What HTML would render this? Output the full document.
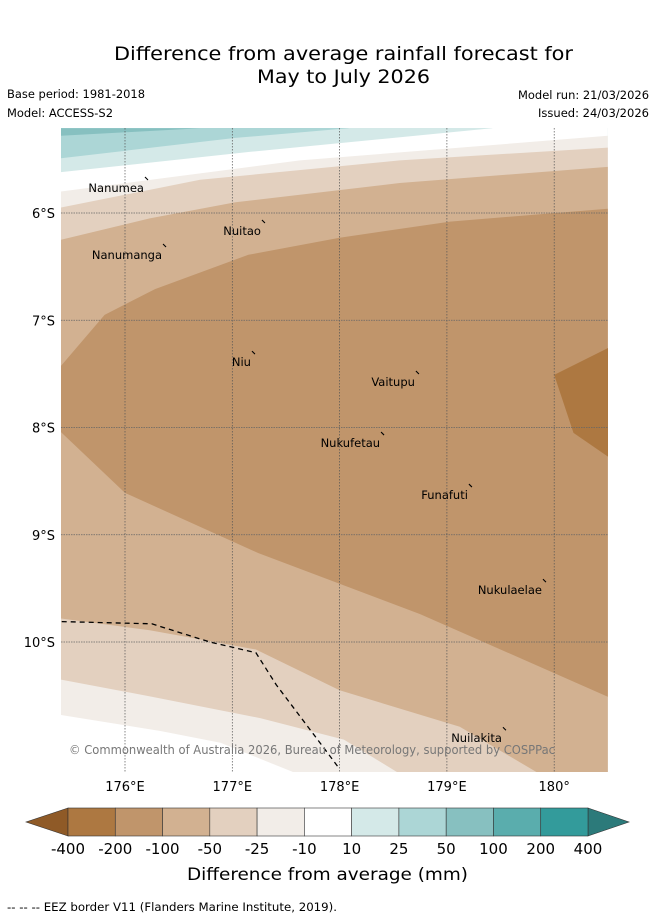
<!DOCTYPE html>
<html><head><meta charset="utf-8"><style>
body{margin:0;background:#fff;}
svg text{font-family:"DejaVu Sans","Liberation Sans",sans-serif;}
</style></head><body>
<svg id="s" width="655" height="919" viewBox="0 0 655 919" xmlns="http://www.w3.org/2000/svg">
<rect width="655" height="919" fill="#fff"/>
<text x="114" y="60" font-size="19" textLength="459" lengthAdjust="spacingAndGlyphs">Difference from average rainfall forecast for</text>
<text x="257" y="83" font-size="19" textLength="173" lengthAdjust="spacingAndGlyphs">May to July 2026</text>
<text x="7" y="98" font-size="11.5" textLength="138" lengthAdjust="spacingAndGlyphs">Base period: 1981-2018</text>
<text x="7" y="117" font-size="11.5" textLength="106" lengthAdjust="spacingAndGlyphs">Model: ACCESS-S2</text>
<text x="518" y="99" font-size="11.5" textLength="131" lengthAdjust="spacingAndGlyphs">Model run: 21/03/2026</text>
<text x="538" y="117" font-size="11.5" textLength="111" lengthAdjust="spacingAndGlyphs">Issued: 24/03/2026</text>
<defs><clipPath id="mc"><rect x="61" y="128" width="547" height="644"/></clipPath></defs>
<g id="map" clip-path="url(#mc)"></g>
<g id="ov"></g>
<text x="69" y="754" font-size="12" fill="#777" textLength="486" lengthAdjust="spacingAndGlyphs">© Commonwealth of Australia 2026, Bureau of Meteorology, supported by COSPPac</text>
<g id="cb"></g>
<text x="187" y="880" font-size="17" textLength="281" lengthAdjust="spacingAndGlyphs">Difference from average (mm)</text>
<text x="7" y="911" font-size="11.5" textLength="330" lengthAdjust="spacingAndGlyphs">-- -- -- EEZ border V11 (Flanders Marine Institute, 2019).</text>
</svg>
<script>
const NS='http://www.w3.org/2000/svg';
// contour boundaries [lon, lat(°S)]
const boundT2=[[175.40,5.49],[177.03,5.30],[178.08,5.21]];
const cornerTeal=[[175.40,5.21],[175.40,5.28],[176.70,5.21]];
const boundW=[[175.40,5.62],[177.16,5.43],[179.42,5.21]];
const boundF=[[175.40,5.80],[177.63,5.51],[180.50,5.28]];
const boundE=[[175.40,5.95],[176.70,5.69],[178.56,5.51],[180.50,5.39]];
const boundD=[[175.40,6.25],[176.23,6.05],[177.03,5.90],[178.56,5.72],[180.50,5.57]];
const darkTop=[[175.40,7.43],[175.81,6.95],[176.28,6.71],[177.15,6.39],[178.00,6.23],[179.03,6.08],[180.50,5.96]];
const darkBottom=[[180.50,10.51],[178.75,9.74],[177.24,9.17],[176.00,8.61],[175.40,8.04]];
const patchA=[[180.50,7.26],[180.00,7.51],[180.18,8.05],[180.50,8.27]];
const boundL1=[[175.40,9.78],[176.23,9.89],[177.22,10.07],[178.00,10.45],[179.12,10.79],[179.83,11.21]];
const boundL2=[[175.40,10.35],[176.25,10.51],[177.26,10.71],[178.04,10.91],[178.53,11.21]];
const boundL3=[[175.40,10.68],[176.33,10.83],[176.89,10.94],[177.56,11.21]];
const eez=[[175.41,9.81],[176.25,9.83],[176.79,10.00],[177.22,10.10],[177.41,10.40],[177.78,10.89],[177.99,11.17]];
const lonTicks=[176,177,178,179,180];
const lonLabels=['176°E','177°E','178°E','179°E','180°'];
const latTicks=[6,7,8,9,10];
const latLabels=['6°S','7°S','8°S','9°S','10°S'];
const islands=['Nanumea','Nuitao','Nanumanga','Niu','Vaitupu','Nukufetau','Funafuti','Nukulaelae','Nuilakita'];
const islandLon=[176.177,177.267,176.345,177.174,178.702,178.377,179.196,179.886,179.513];
const islandLat=[5.767,6.168,6.392,7.390,7.576,8.145,8.630,9.516,10.897];
const cbLevels=['-400','-200','-100','-50','-25','-10','10','25','50','100','200','400'];
const cbColors=['#ad7841','#c0956b','#d2b191','#e3d0bf','#f2ede8','#ffffff','#d4e9e8','#acd6d6','#87c0c0','#5aadad','#339b9b'];
const cbLow='#8f5a27', cbHigh='#2c7a7a';

const W0=175.40,W1=180.50,N0=5.21,S1=11.21;
const X=lon=>125+(lon-176)*107.3;
const Y=lat=>213+(lat-6)*107.25;
const pts=a=>a.map(p=>X(p[0]).toFixed(1)+','+Y(p[1]).toFixed(1)).join(' ');
const map=document.getElementById('map');
function poly(par,arr,fill,name){const e=document.createElementNS(NS,'polygon');e.setAttribute('points',pts(arr));e.setAttribute('fill',fill);


par.appendChild(e);return e;}
function belowPoly(b){const last=b[b.length-1];let a=b.slice();if(last[0]<W1)a.push([W1,N0-0.5]);a.push([W1,S1+1],[W0,S1+1]);return a;}
function belowBottom(b){const last=b[b.length-1];let a=b.slice();a.push([last[0]+3,S1+1],[W0,S1+1]);return a;}
poly(map,[[W0,N0-1],[W1,N0-1],[W1,S1+1],[W0,S1+1]],'#d4e9e8','band-10-25');
poly(map,[[W0,N0-1]].concat(boundT2,[[W1,N0-1]]),'#acd6d6','band-25-50');
poly(map,cornerTeal,'#87c0c0','band-50-100');
poly(map,belowPoly(boundW),'#ffffff','band-neutral');
poly(map,belowPoly(boundF),'#f2ede8','band-minus25-minus10');
poly(map,belowPoly(boundE),'#e3d0bf','band-minus50-minus25');
poly(map,belowPoly(boundD),'#d2b191','band-minus100-minus50');
poly(map,darkTop.concat(darkBottom),'#c0956b','band-minus200-minus100');
poly(map,patchA.concat([[W1+1,8.27],[W1+1,7.26]]),'#ad7841','band-minus400-minus200');
poly(map,belowBottom(boundL1),'#e3d0bf','band-minus50-minus25-south');
poly(map,belowBottom(boundL2),'#f2ede8','band-minus25-minus10-south');
poly(map,belowBottom(boundL3),'#ffffff','band-neutral-south');
lonTicks.forEach(v=>{const l=document.createElementNS(NS,'line');l.setAttribute('x1',X(v));l.setAttribute('x2',X(v));l.setAttribute('y1',128);l.setAttribute('y2',772);l.setAttribute('stroke','#555');l.setAttribute('stroke-width','0.7');l.setAttribute('stroke-dasharray','1.5,1.5');


map.appendChild(l);});
latTicks.forEach(v=>{const l=document.createElementNS(NS,'line');l.setAttribute('y1',Y(v));l.setAttribute('y2',Y(v));l.setAttribute('x1',61);l.setAttribute('x2',608);l.setAttribute('stroke','#666');l.setAttribute('stroke-width','0.7');l.setAttribute('stroke-dasharray','1.5,1');


map.appendChild(l);});
const ez=document.createElementNS(NS,'polyline');ez.setAttribute('points',pts(eez));ez.setAttribute('fill','none');ez.setAttribute('stroke','#000');ez.setAttribute('stroke-width','1.3');ez.setAttribute('stroke-dasharray','5,4');


map.appendChild(ez);
islands.forEach((n,i)=>{const x=X(islandLon[i]),y=Y(islandLat[i]);
const t=document.createElementNS(NS,'text');t.setAttribute('x',x);t.setAttribute('y',y+4);t.setAttribute('font-size','11.5');t.setAttribute('text-anchor','end');t.textContent=n;


map.appendChild(t);
const m=document.createElementNS(NS,'line');m.setAttribute('x1',x+1);m.setAttribute('y1',y-11);m.setAttribute('x2',x+4);m.setAttribute('y2',y-8);m.setAttribute('stroke','#000');m.setAttribute('stroke-width','1.1');


map.appendChild(m);});
const ov=document.getElementById('ov');
lonTicks.forEach((v,i)=>{const t=document.createElementNS(NS,'text');t.setAttribute('x',X(v));t.setAttribute('y',791);t.setAttribute('font-size','13');t.setAttribute('text-anchor','middle');t.textContent=lonLabels[i];


ov.appendChild(t);});
latTicks.forEach((v,i)=>{const t=document.createElementNS(NS,'text');t.setAttribute('x',55);t.setAttribute('y',Y(v)+5);t.setAttribute('font-size','13');t.setAttribute('text-anchor','end');t.textContent=latLabels[i];


ov.appendChild(t);});
const cb=document.getElementById('cb');const cx0=68,cx1=588,cy0=808,cy1=836,n=cbColors.length,w=(cx1-cx0)/n;
const CX=i=>cx0+i*w;
const lo=document.createElementNS(NS,'polygon');lo.setAttribute('points',`${cx0},${cy0} 26,${(cy0+cy1)/2} ${cx0},${cy1}`);lo.setAttribute('fill',cbLow);lo.setAttribute('stroke','#333');lo.setAttribute('stroke-width','0.6');


cb.appendChild(lo);
const hi=document.createElementNS(NS,'polygon');hi.setAttribute('points',`${cx1},${cy0} 629,${(cy0+cy1)/2} ${cx1},${cy1}`);hi.setAttribute('fill',cbHigh);hi.setAttribute('stroke','#333');hi.setAttribute('stroke-width','0.6');


cb.appendChild(hi);
cbColors.forEach((c,i)=>{const r=document.createElementNS(NS,'rect');r.setAttribute('x',CX(i));r.setAttribute('y',cy0);r.setAttribute('width',w);r.setAttribute('height',cy1-cy0);r.setAttribute('fill',c);r.setAttribute('stroke','#333');r.setAttribute('stroke-width','0.6');


cb.appendChild(r);});
cbLevels.forEach((s,i)=>{const t=document.createElementNS(NS,'text');t.setAttribute('x',CX(i));t.setAttribute('y',854);t.setAttribute('font-size','15');t.setAttribute('text-anchor','middle');t.textContent=s;


cb.appendChild(t);});
</script>
</body></html>
